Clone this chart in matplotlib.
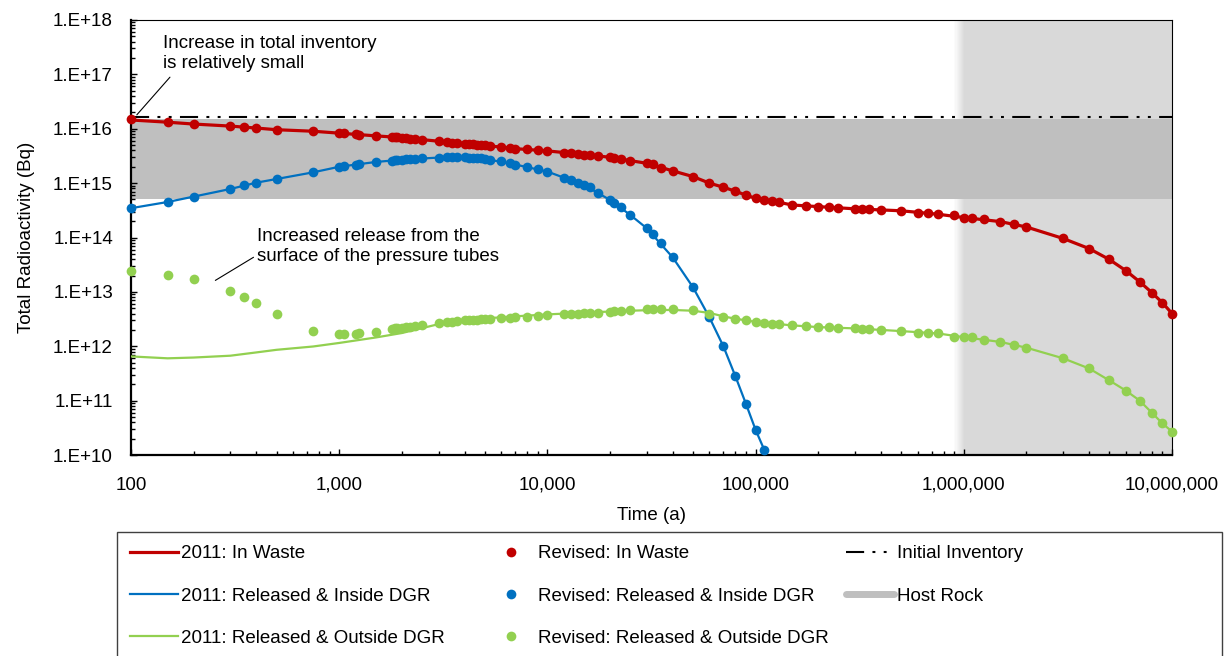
import numpy as np
import matplotlib
matplotlib.use("Agg")
import matplotlib.pyplot as plt
from matplotlib.lines import Line2D
from matplotlib.patches import Rectangle
from matplotlib.ticker import LogLocator, FuncFormatter, NullFormatter

plt.rcParams['font.family'] = ['Liberation Sans', 'DejaVu Sans']
plt.rcParams['font.size'] = 13.5

# ---- values ----
# revised case, output times (a)
t_rev = [100, 150, 200, 300, 350, 400, 500, 750, 1000, 1050,
         1200, 1250, 1500, 1800, 1850, 1900, 2000, 2100, 2200, 2300,
         2500, 3000, 3300, 3500, 3700, 4000, 4200, 4400, 4600, 4800,
         5000, 5300, 6000, 6600, 7000, 8000, 9000, 10000, 12000, 13000,
         14000, 15000, 16000, 17500, 20000, 21000, 22500, 25000, 30000, 32000,
         35000, 40000, 50000, 60000, 70000, 80000, 90000, 100000, 110000, 120000,
         130000, 150000, 175000, 200000, 225000, 250000, 300000, 325000, 350000, 400000,
         500000, 600000, 675000, 750000, 900000, 1e6, 1.1e6, 1.25e6, 1.5e6, 1.75e6,
         2e6, 3e6, 4e6, 5e6, 6e6, 7e6, 8e6, 9e6, 1e7]

red_rev = [1.50e16, 1.32e16, 1.22e16, 1.12e16, 1.08e16, 1.03e16, 9.6e15, 9.0e15, 8.3e15, 8.2e15,
           7.9e15, 7.8e15, 7.4e15, 7.05e15, 7.0e15, 6.95e15, 6.86e15, 6.75e15, 6.6e15, 6.5e15,
           6.3e15, 5.9e15, 5.7e15, 5.55e15, 5.45e15, 5.32e15, 5.25e15, 5.19e15, 5.1e15, 5.0e15,
           4.95e15, 4.83e15, 4.63e15, 4.44e15, 4.31e15, 4.2e15, 4.03e15, 3.91e15, 3.64e15, 3.55e15,
           3.42e15, 3.36e15, 3.3e15, 3.16e15, 2.99e15, 2.87e15, 2.75e15, 2.59e15, 2.32e15, 2.23e15,
           1.93e15, 1.68e15, 1.32e15, 1.0e15, 8.4e14, 7.1e14, 6.0e14, 5.26e14, 4.89e14, 4.69e14,
           4.5e14, 3.96e14, 3.78e14, 3.7e14, 3.58e14, 3.5e14, 3.37e14, 3.35e14, 3.33e14, 3.23e14,
           3.1e14, 2.88e14, 2.85e14, 2.68e14, 2.54e14, 2.33e14, 2.27e14, 2.2e14, 1.96e14, 1.75e14,
           1.56e14, 9.6e13, 6.25e13, 3.94e13, 2.46e13, 1.53e13, 9.7e12, 6.3e12, 4.0e12]

# released & inside DGR falls below 1E+10 after ~110,000 a
blue_rev = [3.46e14, 4.5e14, 5.65e14, 7.8e14, 9.1e14, 1.02e15, 1.19e15, 1.58e15, 2.0e15, 2.05e15,
            2.2e15, 2.25e15, 2.45e15, 2.6e15, 2.64e15, 2.66e15, 2.7e15, 2.75e15, 2.79e15, 2.82e15,
            2.87e15, 2.95e15, 2.97e15, 2.99e15, 2.99e15, 2.98e15, 2.95e15, 2.92e15, 2.88e15, 2.84e15,
            2.8e15, 2.7e15, 2.55e15, 2.35e15, 2.2e15, 2.0e15, 1.84e15, 1.63e15, 1.26e15, 1.15e15,
            1.0e15, 9.2e14, 8.4e14, 6.6e14, 4.9e14, 4.3e14, 3.6e14, 2.6e14, 1.48e14, 1.15e14,
            8.0e13, 4.3e13, 1.22e13, 3.4e12, 1.0e12, 2.8e11, 8.6e10, 2.9e10, 1.25e10]

green_rev = [2.47e13, 2.08e13, 1.71e13, 1.03e13, 7.9e12, 6.3e12, 3.9e12, 1.9e12, 1.69e12, 1.69e12,
             1.7e12, 1.75e12, 1.85e12, 2.1e12, 2.15e12, 2.18e12, 2.21e12, 2.25e12, 2.3e12, 2.35e12,
             2.5e12, 2.73e12, 2.8e12, 2.85e12, 2.95e12, 3.0e12, 3.03e12, 3.06e12, 3.1e12, 3.15e12,
             3.17e12, 3.2e12, 3.29e12, 3.33e12, 3.43e12, 3.52e12, 3.62e12, 3.75e12, 3.89e12, 3.94e12,
             4.0e12, 4.05e12, 4.08e12, 4.17e12, 4.35e12, 4.4e12, 4.53e12, 4.67e12, 4.81e12, 4.87e12,
             4.85e12, 4.85e12, 4.6e12, 4.0e12, 3.5e12, 3.2e12, 3.0e12, 2.8e12, 2.69e12, 2.62e12,
             2.55e12, 2.42e12, 2.4e12, 2.25e12, 2.22e12, 2.2e12, 2.13e12, 2.1e12, 2.07e12, 2.01e12,
             1.9e12, 1.79e12, 1.74e12, 1.72e12, 1.51e12, 1.47e12, 1.45e12, 1.31e12, 1.2e12, 1.06e12,
             9.4e11, 6.0e11, 3.9e11, 2.35e11, 1.53e11, 1.0e11, 6.0e10, 3.8e10, 2.7e10]

# 2011 case (lines)
t_2011 = [100, 150, 200, 300, 400, 500, 750, 1000, 1500, 2000,
          3000, 4000, 5000, 7000, 10000, 15000, 20000, 25000, 30000, 40000,
          50000, 60000, 70000, 80000, 90000, 100000, 110000, 120000, 150000, 200000,
          300000, 500000, 750000, 1e6, 1.5e6, 2e6, 3e6, 4e6, 5e6, 6e6,
          7e6, 8e6, 9e6, 1e7]

red_2011 = [1.45e16, 1.32e16, 1.22e16, 1.12e16, 1.03e16, 9.6e15, 9.0e15, 8.3e15, 7.4e15, 6.86e15,
            5.9e15, 5.32e15, 4.95e15, 4.31e15, 3.91e15, 3.36e15, 2.99e15, 2.59e15, 2.32e15, 1.68e15,
            1.32e15, 1.0e15, 8.4e14, 7.1e14, 6.0e14, 5.26e14, 4.89e14, 4.69e14, 3.96e14, 3.7e14,
            3.37e14, 3.1e14, 2.68e14, 2.33e14, 1.96e14, 1.56e14, 9.6e13, 6.25e13, 3.94e13, 2.46e13,
            1.53e13, 9.7e12, 6.3e12, 4.0e12]

blue_2011 = [3.46e14, 4.5e14, 5.65e14, 7.8e14, 1.02e15, 1.19e15, 1.58e15, 2.0e15, 2.45e15, 2.7e15,
             2.95e15, 2.98e15, 2.8e15, 2.2e15, 1.63e15, 9.2e14, 4.9e14, 2.6e14, 1.48e14, 4.3e13,
             1.22e13, 3.4e12, 1.0e12, 2.8e11, 8.6e10, 2.9e10, 1.25e10, 4.5e9]

green_2011 = [6.5e11, 6.0e11, 6.2e11, 6.7e11, 7.7e11, 8.6e11, 9.9e11, 1.15e12, 1.45e12, 1.75e12,
              2.55e12, 3.0e12, 3.25e12, 3.55e12, 3.85e12, 4.15e12, 4.35e12, 4.5e12, 4.6e12, 4.65e12,
              4.5e12, 4.1e12, 3.55e12, 3.2e12, 3.0e12, 2.8e12, 2.69e12, 2.62e12, 2.42e12, 2.25e12,
              2.13e12, 1.9e12, 1.72e12, 1.47e12, 1.2e12, 9.4e11, 6.0e11, 3.9e11, 2.35e11, 1.53e11,
              1.0e11, 6.0e10, 3.8e10, 2.7e10]

initial_inventory = 1.63e16
host_rock = [5.2e14, 1.48e16]      # gray band
shaded_from = 1e6                  # light gray region to the right

RED, BLUE, GREEN = '#C00000', '#0070C0', '#92D050'
dashdotdot = (0, (8.7, 4, 1.4, 4, 1.4, 4))

fig = plt.figure(figsize=(12.3, 6.56), dpi=100)
ax = fig.add_axes([131 / 1230, 1 - 455 / 656, 1041 / 1230, 435 / 656])
ax.set_xscale('log')
ax.set_yscale('log')
ax.set_xlim(100, 1e7)
ax.set_ylim(1e10, 1e18)

# light gray region with a soft left edge
edge = np.logspace(np.log10(shaded_from) - 0.045, np.log10(shaded_from), 10)
for i in range(len(edge) - 1):
    ax.axvspan(edge[i], edge[i + 1], color='#d9d9d9', alpha=(i + 1) / len(edge), lw=0, zorder=0)
ax.axvspan(shaded_from, 1e7, color='#d9d9d9', lw=0, zorder=0)
ax.axhspan(host_rock[0], host_rock[1], color='#bfbfbf', lw=0, zorder=1)
ax.axhline(initial_inventory, color='black', lw=1.5, ls=dashdotdot, zorder=2)

ax.plot(t_2011, red_2011, color=RED, lw=2.3, zorder=3)
ax.plot(t_2011[:len(blue_2011)], blue_2011, color=BLUE, lw=1.6, zorder=3)
ax.plot(t_2011, green_2011, color=GREEN, lw=1.6, zorder=3)

ax.plot(t_rev, red_rev, 'o', color=RED, ms=7, mew=0, zorder=4, clip_on=False)
ax.plot(t_rev[:len(blue_rev)], blue_rev, 'o', color=BLUE, ms=7, mew=0, zorder=4, clip_on=False)
ax.plot(t_rev, green_rev, 'o', color=GREEN, ms=7, mew=0, zorder=4, clip_on=False)

# axes styling
ax.xaxis.set_major_formatter(FuncFormatter(lambda v, p: f"{v:,.0f}"))
ax.yaxis.set_major_formatter(FuncFormatter(lambda v, p: f"1.E+{int(round(np.log10(v))):02d}"))
ax.yaxis.set_major_locator(LogLocator(base=10, numticks=20))
ax.yaxis.set_minor_locator(LogLocator(base=10, subs=np.arange(2, 10), numticks=20))
ax.xaxis.set_minor_locator(LogLocator(base=10, subs=np.arange(2, 10), numticks=20))
ax.xaxis.set_minor_formatter(NullFormatter())
ax.yaxis.set_minor_formatter(NullFormatter())
ax.tick_params(which='both', direction='in', top=False, right=False, width=1, colors='black')
ax.tick_params(which='major', length=4.5)
ax.tick_params(which='minor', length=3)
ax.tick_params(axis='x', pad=15.5)
ax.tick_params(axis='y', pad=13)
for s in ['left', 'bottom']:
    ax.spines[s].set_linewidth(1.6)
for s in ['top', 'right']:
    ax.spines[s].set_linewidth(0.8)

ax.set_xlabel('Time (a)', labelpad=10)
ax.set_ylabel('Total Radioactivity (Bq)', labelpad=13)

# annotations
ax.text(142.5, 2.4e17, 'Increase in total inventory\nis relatively small', va='center', ha='left')
ax.annotate('', xy=(104.5, 1.65e16), xytext=(157, 9.7e16),
            arrowprops=dict(arrowstyle='-', lw=0.8, color='black'))
ax.text(402, 6.9e13, 'Increased release from the\nsurface of the pressure tubes', va='center', ha='left')
ax.annotate('', xy=(247.6, 1.53e13), xytext=(398, 4.6e13),
            arrowprops=dict(arrowstyle='-', lw=0.8, color='black'))

# legend: three columns inside one frame
col1 = [Line2D([], [], color=RED, lw=2.3), Line2D([], [], color=BLUE, lw=1.6),
        Line2D([], [], color=GREEN, lw=1.6)]
col2 = [Line2D([], [], color=c, marker='o', ls='none', ms=7, mew=0) for c in (RED, BLUE, GREEN)]
col3 = [Line2D([], [], color='black', lw=1.5, ls=dashdotdot),
        Line2D([], [], color='#bfbfbf', lw=5, solid_capstyle='round')]
labels1 = ['2011: In Waste', '2011: Released & Inside DGR', '2011: Released & Outside DGR']
labels2 = ['Revised: In Waste', 'Revised: Released & Inside DGR', 'Revised: Released & Outside DGR']
labels3 = ['Initial Inventory', 'Host Rock']
for h, l, x0 in [(col1, labels1, 130), (col2, labels2, 487), (col3, labels3, 846)]:
    fig.legend(h, l, loc='upper left', bbox_to_anchor=(x0 / 1230, 1 - 545 / 656),
               frameon=False, borderpad=0, borderaxespad=0, handlelength=2.56,
               handletextpad=0.15, labelspacing=1.35, numpoints=1)
fig.add_artist(Rectangle((117 / 1230, -0.1), (1222 - 117) / 1230, 0.1 + 1 - 532 / 656,
                         transform=fig.transFigure, fill=False, ec='#404040', lw=1, clip_on=False))

fig.savefig('out.png', dpi=100)
